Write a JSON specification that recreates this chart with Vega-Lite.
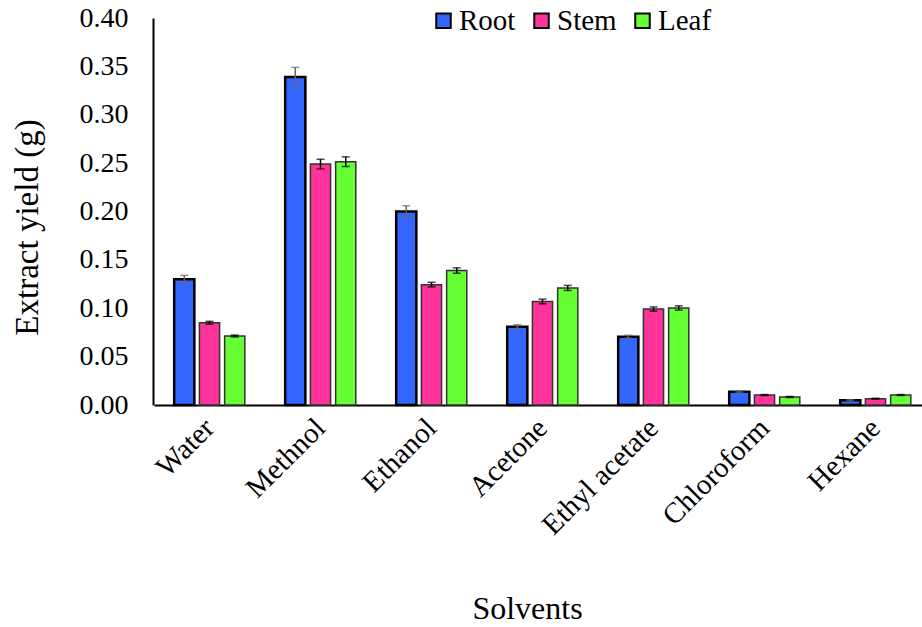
{
  "$schema": "https://vega.github.io/schema/vega-lite/v6.json",
  "width": 767,
  "height": 387,
  "autosize": {"type": "none"},
  "padding": {"left": 153, "top": 18, "right": 2, "bottom": 222},
  "background": "white",
  "config": {
    "font": "Times New Roman",
    "view": {"stroke": null},
    "axis": {"labelFont": "Times New Roman", "titleFont": "Times New Roman", "labelColor": "black", "titleColor": "black", "titleFontWeight": "normal", "grid": false, "ticks": false, "domainColor": "black", "domainWidth": 2},
    "legend": {"labelFont": "Times New Roman"}
  },
  "data": {
    "values": [
      {"solvent": "Water", "part": "Root", "value": 0.130, "err": 0.004},
      {"solvent": "Water", "part": "Stem", "value": 0.085, "err": 0.0015},
      {"solvent": "Water", "part": "Leaf", "value": 0.0713, "err": 0.001},
      {"solvent": "Methnol", "part": "Root", "value": 0.339, "err": 0.010},
      {"solvent": "Methnol", "part": "Stem", "value": 0.249, "err": 0.005},
      {"solvent": "Methnol", "part": "Leaf", "value": 0.2515, "err": 0.005},
      {"solvent": "Ethanol", "part": "Root", "value": 0.200, "err": 0.006},
      {"solvent": "Ethanol", "part": "Stem", "value": 0.1244, "err": 0.0024},
      {"solvent": "Ethanol", "part": "Leaf", "value": 0.139, "err": 0.0028},
      {"solvent": "Acetone", "part": "Root", "value": 0.081, "err": 0.002},
      {"solvent": "Acetone", "part": "Stem", "value": 0.107, "err": 0.0024},
      {"solvent": "Acetone", "part": "Leaf", "value": 0.121, "err": 0.0026},
      {"solvent": "Ethyl acetate", "part": "Root", "value": 0.0706, "err": 0.0015},
      {"solvent": "Ethyl acetate", "part": "Stem", "value": 0.0992, "err": 0.0022},
      {"solvent": "Ethyl acetate", "part": "Leaf", "value": 0.1003, "err": 0.0022},
      {"solvent": "Chloroform", "part": "Root", "value": 0.0138, "err": 0.0008},
      {"solvent": "Chloroform", "part": "Stem", "value": 0.0103, "err": 0.0005},
      {"solvent": "Chloroform", "part": "Leaf", "value": 0.0083, "err": 0.0005},
      {"solvent": "Hexane", "part": "Root", "value": 0.0048, "err": 0.0007},
      {"solvent": "Hexane", "part": "Stem", "value": 0.0065, "err": 0.0005},
      {"solvent": "Hexane", "part": "Leaf", "value": 0.0103, "err": 0.0005}
    ]
  },
  "encoding": {
    "x": {
      "field": "solvent", "type": "nominal", "sort": null,
      "scale": {"paddingInner": 0, "paddingOuter": 0, "range": [1, 778]},
      "axis": {"title": "Solvents", "titleFontSize": 32, "labelFontSize": 29, "labelAngle": -45, "labelAlign": "right", "labelBaseline": "middle", "labelPadding": 18, "titleX": 374, "titleY": 203, "titleBaseline": "middle"}
    },
    "xOffset": {
      "field": "part", "type": "nominal", "sort": ["Root", "Stem", "Leaf"],
      "scale": {"domain": ["Root", "Stem", "Leaf"], "paddingInner": 0.2, "paddingOuter": 0.8}
    },
    "y": {
      "field": "value", "type": "quantitative",
      "scale": {"domain": [0, 0.4], "nice": false},
      "axis": {"title": "Extract yield (g)", "titleFontSize": 33, "labelFontSize": 28, "format": ".2f", "values": [0, 0.05, 0.1, 0.15, 0.2, 0.25, 0.3, 0.35, 0.4], "labelPadding": 25, "titleX": -126, "titleY": 209, "titleAngle": -90, "titleAlign": "center", "titleBaseline": "middle"}
    }
  },
  "layer": [
    {
      "mark": {"type": "bar"},
      "encoding": {
        "color": {
          "field": "part", "type": "nominal",
          "scale": {"domain": ["Root", "Stem", "Leaf"], "range": ["#3366FF", "#FF3399", "#66FF33"]},
          "legend": {"title": null, "orient": "none", "direction": "horizontal", "legendX": 276, "legendY": -12, "labelFontSize": 29, "labelFont": "Times New Roman", "labelColor": "black", "symbolType": "square", "symbolSize": 210, "symbolStrokeColor": "black", "symbolStrokeWidth": 2, "symbolOpacity": 1, "labelOffset": 1, "columnPadding": 11, "padding": 0}
        },
        "stroke": {"condition": {"test": "datum.part === 'Root'", "value": "black"}, "value": "#333333"},
        "strokeWidth": {"condition": {"test": "datum.part === 'Root'", "value": 2.5}, "value": 1.5}
      }
    },
    {
      "transform": [{"filter": "datum.part === 'Root'"}],
      "mark": {"type": "errorbar", "ticks": {"size": 8}, "color": "#666666", "thickness": 1.5},
      "encoding": {"yError": {"field": "err"}}
    },
    {
      "transform": [{"filter": "datum.part !== 'Root'"}],
      "mark": {"type": "errorbar", "ticks": {"size": 8}, "color": "black", "thickness": 1.5},
      "encoding": {"yError": {"field": "err"}}
    }
  ]
}
